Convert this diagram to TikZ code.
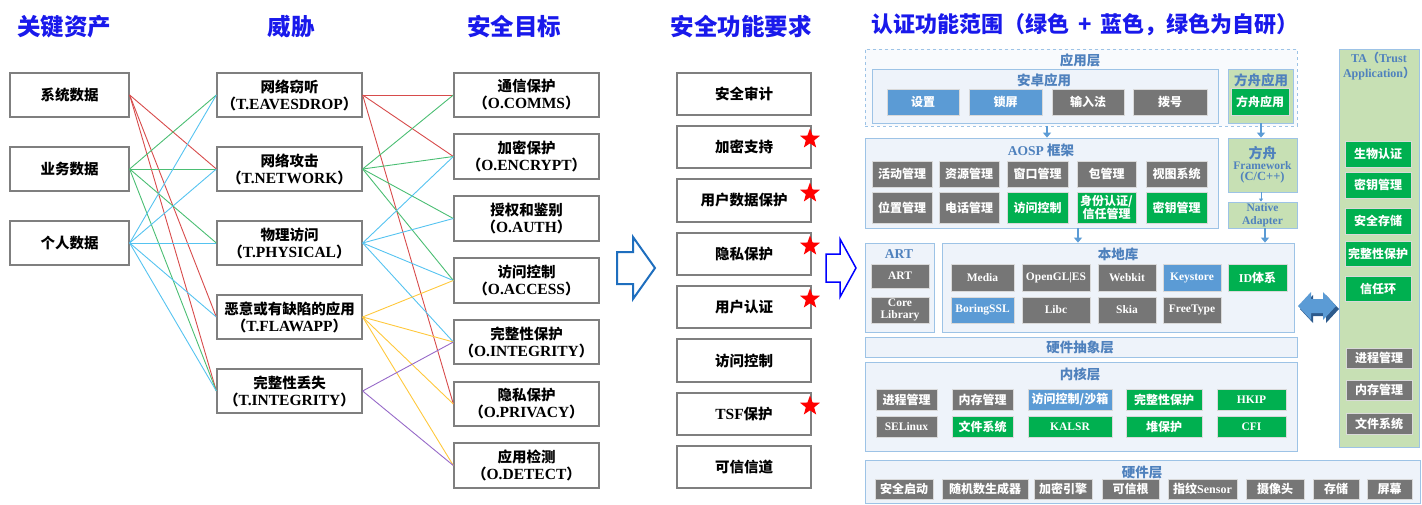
\documentclass[tikz,border=0pt]{standalone}
\usepackage{fontspec}
\setmainfont{Noto Sans CJK SC}
\newfontfamily\tnr{Liberation Serif}
\usetikzlibrary{arrows.meta,shapes.geometric}

\definecolor{headblue}{RGB}{25,25,235}
\definecolor{boxgray}{RGB}{127,127,127}
\definecolor{lnred}{RGB}{215,75,75}
\definecolor{lngreen}{RGB}{75,190,115}
\definecolor{lnblue}{RGB}{85,195,240}
\definecolor{lnyellow}{RGB}{255,200,60}
\definecolor{lnpurple}{RGB}{150,105,200}
\definecolor{steel}{RGB}{79,129,189}
\definecolor{panelline}{RGB}{157,195,230}
\definecolor{panelfill}{RGB}{238,243,250}
\definecolor{arkfill}{RGB}{199,224,180}
\definecolor{chipgray}{RGB}{118,118,118}
\definecolor{chipgreen}{RGB}{0,176,80}
\definecolor{chipblue}{RGB}{91,155,213}
\definecolor{darkblue}{RGB}{45,90,140}
\definecolor{arrowblue}{RGB}{30,110,190}

% box given by its two corners: style, name, x1, y1, x2, y2, text
\newcommand\mkbox[7]{%
  \node[#1, minimum width={(#5)-(#3)}, minimum height={(#6)-(#4)}] (#2)
    at ({((#3)+(#5))/2},{((#4)+(#6))/2}) {#7};}
% Latin identifier on the second line of a card
\newcommand\ident[1]{{\tnr\fontsize{15.5}{17}\selectfont #1}}

\begin{document}
\begin{tikzpicture}[x=1pt,y=-1pt,
  head/.style={text=headblue, font=\bfseries\fontsize{23.5}{27}\selectfont},
  card/.style={draw=boxgray, line width=1.3pt, fill=white, align=center,
    inner sep=0pt, font=\bfseries\fontsize{14.5}{17}\selectfont},
  link/.style={line width=0.9pt},
  panel/.style={draw=panelline, line width=0.8pt, fill=panelfill, inner sep=0pt},
  arkpanel/.style={draw=panelline, line width=0.8pt, fill=arkfill, inner sep=0pt,
    align=center, text=steel},
  ttl/.style={text=steel, inner sep=0pt, font=\bfseries\fontsize{13.5}{15}\selectfont},
  chip/.style={draw=white!70!gray, line width=0.5pt, text=white, align=center,
    inner sep=0pt, font=\bfseries\fontsize{12}{12.5}\selectfont},
  gchip/.style={chip, fill=chipgray},
  grn/.style={chip, fill=chipgreen},
  blu/.style={chip, fill=chipblue},
  lat/.style={font=\tnr\bfseries\fontsize{11.5}{12.5}\selectfont},
  flow/.style={draw=chipblue, line width=2.5pt, -{Triangle[width=8pt,length=5pt]}},
  redstar/.style={star, star points=5, star point ratio=2.4, fill=red,
    minimum size=21pt, inner sep=0pt}
]
\useasboundingbox (0,0) rectangle (1422,504);

% ---------- column headings ----------
\node[head] (hAsset)  at (64,27)   {关键资产};
\node[head] (hThreat) at (291,27)  {威胁};
\node[head] (hObj)    at (514,27)  {安全目标};
\node[head] (hSfr)    at (741,27)  {安全功能要求};
\node[head, font=\bfseries\fontsize{22}{26}\selectfont] (hScope) at (1085,25)
  {认证功能范围（绿色\hspace{9pt}+\hspace{9pt}蓝色，绿色为自研）};

% ---------- assets ----------
\mkbox{card}{a1}{10}{73}{129}{117}{系统数据}
\mkbox{card}{a2}{10}{147}{129}{191}{业务数据}
\mkbox{card}{a3}{10}{221}{129}{265}{个人数据}

% ---------- threats ----------
\mkbox{card}{t1}{217}{73}{362}{117}{网络窃听\\（\ident{T.EAVESDROP}）}
\mkbox{card}{t2}{217}{147}{362}{191}{网络攻击\\（\ident{T.NETWORK}）}
\mkbox{card}{t3}{217}{221}{362}{265}{物理访问\\（\ident{T.PHYSICAL}）}
\mkbox{card}{t4}{217}{295}{362}{339}{恶意或有缺陷的应用\\（\ident{T.FLAWAPP}）}
\mkbox{card}{t5}{217}{369}{362}{413}{完整性丢失\\（\ident{T.INTEGRITY}）}

% ---------- objectives ----------
\mkbox{card}{o1}{454}{73}{599}{117}{通信保护\\（\ident{O.COMMS}）}
\mkbox{card}{o2}{454}{134}{599}{179}{加密保护\\（\ident{O.ENCRYPT}）}
\mkbox{card}{o3}{454}{196}{599}{241}{授权和鉴别\\（\ident{O.AUTH}）}
\mkbox{card}{o4}{454}{258}{599}{303}{访问控制\\（\ident{O.ACCESS}）}
\mkbox{card}{o5}{454}{320}{599}{364}{完整性保护\\（\ident{O.INTEGRITY}）}
\mkbox{card}{o6}{454}{382}{599}{426}{隐私保护\\（\ident{O.PRIVACY}）}
\mkbox{card}{o7}{454}{443}{599}{488}{应用检测\\（\ident{O.DETECT}）}

% ---------- asset -> threat links ----------
\foreach \t in {t2,t4,t5}    \draw[link,lnred]    (a1.east) -- (\t.west);
\foreach \t in {t1,t2,t3,t5} \draw[link,lngreen]  (a2.east) -- (\t.west);
\foreach \t in {t1,t2,t3,t4,t5} \draw[link,lnblue] (a3.east) -- (\t.west);

% ---------- threat -> objective links ----------
\foreach \o in {o1,o2,o6}    \draw[link,lnred]    (t1.east) -- (\o.west);
\foreach \o in {o1,o2,o3,o4} \draw[link,lngreen]  (t2.east) -- (\o.west);
\foreach \o in {o2,o3,o4,o5} \draw[link,lnblue]   (t3.east) -- (\o.west);
\foreach \o in {o4,o5,o6,o7} \draw[link,lnyellow] (t4.east) -- (\o.west);
\foreach \o in {o5,o7}       \draw[link,lnpurple] (t5.east) -- (\o.west);

% ---------- hollow arrows ----------
\draw[draw=arrowblue, line width=2pt, fill=white, line join=miter]
  (617,252) -- (633,252) -- (633,237) -- (655,268) -- (633,299) -- (633,284) -- (617,284) -- cycle;
\draw[draw=blue, line width=1.5pt, fill=white, line join=miter]
  (826,254) -- (840,254) -- (840,239) -- (856,268) -- (840,297) -- (840,282) -- (826,282) -- cycle;

% ---------- security functional requirements ----------
\mkbox{card}{s1}{677}{73}{811}{115}{安全审计}
\mkbox{card}{s2}{677}{126}{811}{168}{加密支持}
\mkbox{card}{s3}{677}{179}{811}{222}{用户数据保护}
\mkbox{card}{s4}{677}{233}{811}{275}{隐私保护}
\mkbox{card}{s5}{677}{286}{811}{328}{用户认证}
\mkbox{card}{s6}{677}{339}{811}{382}{访问控制}
\mkbox{card}{s7}{677}{393}{811}{435}{\ident{TSF}保护}
\mkbox{card}{s8}{677}{446}{811}{488}{可信信道}
\node[redstar] (st2) at (810,139) {};
\node[redstar] (st3) at (810,193) {};
\node[redstar] (st4) at (810,246) {};
\node[redstar] (st5) at (810,299) {};
\node[redstar] (st7) at (810,406) {};

% ---------- application layer ----------
\mkbox{panel, dashed, fill=panelfill!40}{applayer}{865}{49}{1297}{126}{}
\node[ttl] (applayerT) at (1080,60) {应用层};
\mkbox{panel}{andr}{872}{69}{1218}{123}{}
\node[ttl] (andrT) at (1044,80) {安卓应用};
\mkbox{blu}{c11}{887}{89}{959}{115}{设置}
\mkbox{blu}{c12}{969}{89}{1042}{115}{锁屏}
\mkbox{gchip}{c13}{1052}{89}{1124}{115}{输入法}
\mkbox{gchip}{c14}{1133}{89}{1207}{115}{拨号}
\mkbox{arkpanel}{arkapp}{1228}{69}{1293}{123}{}
\node[ttl] (arkappT) at (1261,80) {方舟应用};
\mkbox{grn}{c15}{1231}{88}{1289}{115}{方舟应用}

% ---------- AOSP framework ----------
\mkbox{panel}{aosp}{865}{138}{1218}{228}{}
\node[ttl] (aospT) at (1041,150) {{\tnr AOSP} 框架};
\mkbox{gchip}{c21}{872}{161}{932}{187}{活动管理}
\mkbox{gchip}{c22}{939}{161}{999}{187}{资源管理}
\mkbox{gchip}{c23}{1007}{161}{1068}{187}{窗口管理}
\mkbox{gchip}{c24}{1077}{161}{1136}{187}{包管理}
\mkbox{gchip}{c25}{1146}{161}{1207}{187}{视图系统}
\mkbox{gchip}{c26}{872}{192}{932}{223}{位置管理}
\mkbox{gchip}{c27}{939}{192}{999}{223}{电话管理}
\mkbox{grn}{c28}{1007}{192}{1068}{223}{访问控制}
\mkbox{grn}{c29}{1077}{192}{1136}{223}{身份认证/\\信任管理}
\mkbox{grn}{c30}{1146}{192}{1207}{223}{密钥管理}

\mkbox{arkpanel}{arkfw}{1228}{138}{1297}{192}{{\bfseries\fontsize{14}{16}\selectfont 方舟}\\[-1pt]
  {\tnr\bfseries\fontsize{11.5}{15}\selectfont Framework}\\[-1pt]{\tnr\bfseries\fontsize{12.5}{15}\selectfont (C/C++)}}
\mkbox{arkpanel, font=\tnr\bfseries\fontsize{11.5}{12.5}\selectfont}{native}{1228}{202}{1297}{228}{Native\\Adapter}

% ---------- runtime and native libraries ----------
\mkbox{panel}{art}{865}{243}{934}{332}{}
\node[ttl, font=\tnr\bfseries\fontsize{13.5}{15}\selectfont] (artT) at (899,254) {ART};
\mkbox{gchip, lat}{c31}{871}{264}{929}{288}{ART}
\mkbox{gchip, lat}{c32}{871}{297}{929}{323}{Core\\Library}

\mkbox{panel}{nlib}{942}{243}{1294}{332}{}
\node[ttl] (nlibT) at (1118,254) {本地库};
\mkbox{gchip, lat}{c41}{951}{264}{1014}{291}{Media}
\mkbox{gchip, lat}{c42}{1022}{264}{1090}{291}{OpenGL|ES}
\mkbox{gchip, lat}{c43}{1098}{264}{1156}{291}{Webkit}
\mkbox{blu, lat}{c44}{1163}{264}{1221}{291}{Keystore}
\mkbox{grn}{c45}{1228}{264}{1287}{291}{{\tnr ID}体系}
\mkbox{blu, lat}{c46}{951}{297}{1014}{323}{BoringSSL}
\mkbox{gchip, lat}{c47}{1022}{297}{1090}{323}{Libc}
\mkbox{gchip, lat}{c48}{1098}{297}{1156}{323}{Skia}
\mkbox{gchip, lat}{c49}{1163}{297}{1221}{323}{FreeType}

% ---------- HAL ----------
\mkbox{panel}{hal}{865}{337}{1297}{357}{}
\node[ttl] (halT) at (1080,347) {硬件抽象层};

% ---------- kernel ----------
\mkbox{panel}{kern}{865}{362}{1297}{451}{}
\node[ttl] (kernT) at (1080,374) {内核层};
\mkbox{gchip}{c51}{876}{389}{937}{410}{进程管理}
\mkbox{gchip}{c52}{952}{389}{1013}{410}{内存管理}
\mkbox{blu}{c53}{1028}{389}{1112}{410}{访问控制/沙箱}
\mkbox{grn}{c54}{1126}{389}{1202}{410}{完整性保护}
\mkbox{grn, lat}{c55}{1217}{389}{1286}{410}{HKIP}
\mkbox{gchip, lat}{c56}{876}{416}{937}{437}{SELinux}
\mkbox{grn}{c57}{952}{416}{1013}{437}{文件系统}
\mkbox{grn, lat}{c58}{1028}{416}{1112}{437}{KALSR}
\mkbox{grn}{c59}{1126}{416}{1202}{437}{堆保护}
\mkbox{grn, lat}{c60}{1217}{416}{1286}{437}{CFI}

% ---------- hardware ----------
\mkbox{panel}{hw}{865}{460}{1420}{503}{}
\node[ttl] (hwT) at (1142,472) {硬件层};
\mkbox{gchip}{c61}{875}{479}{933}{499}{安全启动}
\mkbox{gchip}{c62}{942}{479}{1028}{499}{随机数生成器}
\mkbox{gchip}{c63}{1034}{479}{1092}{499}{加密引擎}
\mkbox{gchip}{c64}{1102}{479}{1159}{499}{可信根}
\mkbox{gchip}{c65}{1168}{479}{1237}{499}{指纹{\tnr Sensor}}
\mkbox{gchip}{c66}{1246}{479}{1304}{499}{摄像头}
\mkbox{gchip}{c67}{1313}{479}{1359}{499}{存储}
\mkbox{gchip}{c68}{1367}{479}{1412}{499}{屏幕}

% ---------- trusted application side ----------
\mkbox{arkpanel}{ta}{1339}{49}{1419}{447}{}
\node[text=steel, align=center, inner sep=0pt,
  font=\bfseries\fontsize{12}{15}\selectfont] (taT) at (1379,66)
  {{\tnr TA}（{\tnr Trust}\\{\tnr Application}）};
\mkbox{grn}{c71}{1345}{141}{1411}{167}{生物认证}
\mkbox{grn}{c72}{1345}{172}{1411}{198}{密钥管理}
\mkbox{grn}{c73}{1345}{208}{1411}{234}{安全存储}
\mkbox{grn}{c74}{1345}{241}{1411}{266}{完整性保护}
\mkbox{grn}{c75}{1345}{276}{1411}{301}{信任环}
\mkbox{gchip}{c76}{1346}{348}{1412}{368}{进程管理}
\mkbox{gchip}{c77}{1346}{380}{1412}{400}{内存管理}
\mkbox{gchip}{c78}{1346}{413}{1412}{434}{文件系统}

% ---------- layer flow arrows ----------
\coordinate (fx1) at (1047,0);
\coordinate (fx2) at (1261,0);
\coordinate (fx3) at (1078,0);
\coordinate (fx4) at (1265,0);
\draw[flow] (applayer.south -| fx1) -- (aosp.north -| fx1);
\draw[flow] (arkapp.south -| fx2) -- (arkfw.north -| fx2);
\draw[flow] (aosp.south -| fx3) -- (nlib.north -| fx3);
\draw[draw=chipblue, line width=0.8pt, -{Triangle[width=4pt,length=3pt]}] (arkfw.south -| fx2) -- (native.north -| fx2);
\draw[flow] (native.south -| fx4) -- (nlib.north -| fx4);

% ---------- double arrow between native libraries and TA ----------
\fill[darkblue] (1300,309) -- (1313,295) -- (1313,302) -- (1326,302) -- (1326,295) -- (1339,309)
  -- (1326,323) -- (1326,316) -- (1313,316) -- (1313,323) -- cycle;
\fill[chipblue] (1298,306) -- (1311,292) -- (1311,299) -- (1323,299) -- (1323,292) -- (1336,306)
  -- (1323,320) -- (1323,313) -- (1311,313) -- (1311,320) -- cycle;
\end{tikzpicture}
\end{document}
